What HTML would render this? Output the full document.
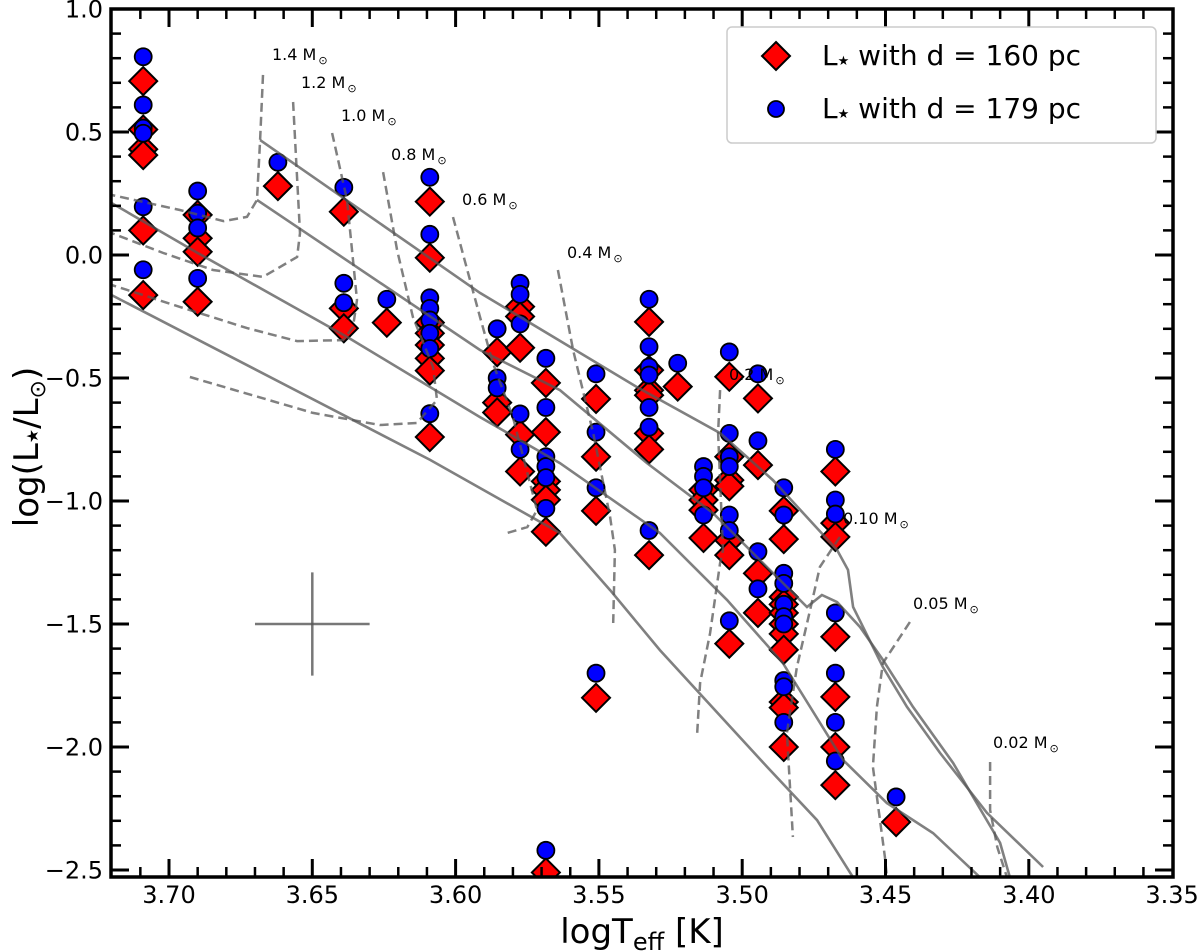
<!DOCTYPE html>
<html><head><meta charset="utf-8"><style>
html,body{margin:0;padding:0;background:#fff;}
svg{display:block;font-family:"DejaVu Sans","Liberation Sans",sans-serif;}
</style></head><body>
<svg id="chart" width="1200" height="951" viewBox="0 0 1200 951" xmlns="http://www.w3.org/2000/svg">
<defs><clipPath id="plotclip"><rect x="111" y="9" width="1062" height="868"/></clipPath></defs>
<g id="marks" clip-path="url(#plotclip)"></g>
<g id="axes"></g>
</svg>
<script>
// ---- data ----
const teff160 = [3.709,3.709,3.709,3.709,3.709,3.709, 3.690,3.690,3.690,3.690, 3.662, 3.639,3.639,3.639, 3.624,
 3.609,3.609,3.609,3.609,3.609,3.609,3.609,3.609, 3.5855,3.5855,3.5855, 3.5775,3.5775,3.5775,3.5775,3.5775,
 3.5685,3.5685,3.5685,3.5685,3.5685,3.5685,3.5685, 3.551,3.551,3.551,3.551, 3.5325,3.5325,3.5325,3.5325,3.5325,3.5325,3.5325,
 3.5225, 3.5135,3.5135,3.5135,3.5135, 3.5045,3.5045,3.5045,3.5045,3.5045,3.5045,3.5045, 3.4945,3.4945,3.4945,3.4945,
 3.4855,3.4855,3.4855,3.4855,3.4855,3.4855,3.4855,3.4855,3.4855,3.4855,3.4855, 3.4675,3.4675,3.4675,3.4675,3.4675,3.4675,3.4675, 3.4463];
const lum160 = [0.707,0.51,0.43,0.406,0.10,-0.163, 0.163,0.068,0.013,-0.19, 0.28, 0.176,-0.217,-0.298, -0.275,
 0.217,-0.011,-0.275,-0.318,-0.366,-0.42,-0.47,-0.74, -0.395,-0.60,-0.64, -0.21,-0.25,-0.377,-0.73,-0.88,
 -0.52,-0.72,-0.92,-0.955,-0.995,-1.125,-2.51, -0.585,-0.82,-1.04,-1.80, -0.272,-0.468,-0.55,-0.57,-0.725,-0.79,-1.22,
 -0.535, -0.955,-0.996,-1.037,-1.15, -0.495,-0.82,-0.915,-0.94,-1.16,-1.22,-1.58, -0.583,-0.854,-1.294,-1.455,
 -1.04,-1.155,-1.39,-1.42,-1.455,-1.50,-1.54,-1.605,-1.817,-1.84,-2.0, -0.88,-1.09,-1.146,-1.552,-1.796,-2.0,-2.155, -2.305];
const teff179 = [3.709,3.709,3.709,3.709,3.709,3.709, 3.690,3.690,3.690,3.690, 3.662, 3.639,3.639,3.639, 3.624,
 3.609,3.609,3.609,3.609,3.609,3.609,3.609,3.609, 3.5855,3.5855,3.5855, 3.5775,3.5775,3.5775,3.5775,3.5775,
 3.5685,3.5685,3.5685,3.5685,3.5685,3.5685,3.5685, 3.551,3.551,3.551,3.551, 3.5325,3.5325,3.5325,3.5325,3.5325,3.5325,3.5325,
 3.5225, 3.5135,3.5135,3.5135,3.5135, 3.5045,3.5045,3.5045,3.5045,3.5045,3.5045,3.5045, 3.4945,3.4945,3.4945,3.4945,
 3.4855,3.4855,3.4855,3.4855,3.4855,3.4855,3.4855,3.4855,3.4855,3.4855, 3.4675,3.4675,3.4675,3.4675,3.4675,3.4675,3.4675, 3.4463];
const lum179 = [0.806,0.61,0.516,0.495,0.196,-0.06, 0.26,0.17,0.11,-0.095, 0.377, 0.275,-0.115,-0.194, -0.18,
 0.316,0.084,-0.174,-0.217,-0.264,-0.318,-0.38,-0.645, -0.30,-0.50,-0.54, -0.115,-0.16,-0.28,-0.646,-0.79,
 -0.42,-0.62,-0.82,-0.86,-0.905,-1.03,-2.42, -0.483,-0.72,-0.946,-1.70, -0.18,-0.373,-0.455,-0.488,-0.62,-0.70,-1.12,
 -0.44, -0.86,-0.90,-0.946,-1.057, -0.394,-0.725,-0.82,-0.86,-1.057,-1.12,-1.487, -0.483,-0.755,-1.206,-1.357,
 -0.946,-1.057,-1.294,-1.335,-1.42,-1.47,-1.50,-1.73,-1.755,-1.90, -0.79,-0.996,-1.053,-1.455,-1.70,-1.90,-2.057, -2.203];
// isochrones [logT, logL]
const iso1 = [[3.6682,0.467],[3.5915,-0.154],[3.560,-0.374],[3.5367,-0.537],[3.5077,-0.724],[3.4893,-0.915],[3.4669,-1.199],[3.4631,-1.28],[3.4613,-1.431],[3.4509,-1.675],[3.4425,-1.837],[3.431,-2.024],[3.4146,-2.268],[3.395,-2.488]];
const iso2 = [[3.6693,0.224],[3.5915,-0.386],[3.5636,-0.549],[3.5332,-0.846],[3.5102,-1.049],[3.4774,-1.431],[3.4722,-1.382],[3.4669,-1.411],[3.4589,-1.512],[3.4509,-1.646],[3.4404,-1.837],[3.4264,-2.065],[3.410,-2.39],[3.4066,-2.53]];
const iso3 = [[3.72,0.211],[3.690,0.008],[3.6379,-0.333],[3.5915,-0.659],[3.5636,-0.846],[3.5287,-1.13],[3.5053,-1.402],[3.4858,-1.659],[3.4648,-2.053],[3.4495,-2.228],[3.4334,-2.35],[3.417,-2.53]];
const iso4 = [[3.72,-0.163],[3.6089,-0.833],[3.5636,-1.13],[3.5461,-1.362],[3.5287,-1.606],[3.4913,-2.081],[3.4739,-2.297],[3.4613,-2.53]];
// mass tracks
const trackNames = ["1.4","1.2","1.0","0.8","0.6","0.4","0.2","0.10","0.05","0.02"];
const tr14 = [[3.6672,0.732],[3.6682,0.467],[3.6693,0.224],[3.6728,0.155],[3.681,0.138],[3.6962,0.183],[3.72,0.244]];
const tr12 = [[3.6567,0.622],[3.6543,0.089],[3.6553,-0.008],[3.6672,-0.089],[3.6846,-0.061],[3.702,0.008],[3.72,0.089]];
const tr10 = [[3.6431,0.496],[3.6379,0.224],[3.6344,-0.183],[3.6358,-0.293],[3.6393,-0.346],[3.6553,-0.35],[3.6728,-0.297],[3.6962,-0.211],[3.72,-0.122]];
const tr08 = [[3.6253,0.337],[3.6204,0.02],[3.6149,-0.252],[3.6079,-0.455],[3.6065,-0.589],[3.6135,-0.683],[3.6264,-0.691],[3.6498,-0.642],[3.6927,-0.496]];
const tr06 = [[3.6009,0.154],[3.5915,-0.252],[3.587,-0.439],[3.580,-0.659],[3.5716,-1.037],[3.575,-1.106],[3.582,-1.13]];
const tr04 = [[3.5643,-0.061],[3.559,-0.386],[3.552,-0.724],[3.5461,-1.065],[3.5444,-1.199],[3.545,-1.496]];
const tr02 = [[3.5077,-0.549],[3.5084,-0.724],[3.5067,-1.199],[3.5077,-1.252],[3.5112,-1.537],[3.5147,-1.74],[3.5157,-1.943]];
const tr010 = [[3.4659,-1.146],[3.4729,-1.268],[3.4763,-1.443],[3.4809,-1.675],[3.4844,-1.943],[3.4823,-2.366]];
const tr005 = [[3.4415,-1.492],[3.4509,-1.659],[3.453,-1.837],[3.4544,-2.081],[3.4502,-2.447],[3.4495,-2.53]];
const tr002 = [[3.4135,-2.061],[3.4135,-2.256],[3.411,-2.407],[3.4076,-2.53]];
const xTicks = [3.70,3.65,3.60,3.55,3.50,3.45,3.40,3.35];
const xTickLabels = ["3.70","3.65","3.60","3.55","3.50","3.45","3.40","3.35"];
const yTicks = [1.0,0.5,0.0,-0.5,-1.0,-1.5,-2.0,-2.5];
const yTickLabels = ["1.0","0.5","0.0","\u22120.5","\u22121.0","\u22121.5","\u22122.0","\u22122.5"];
const errCenter = [3.65,-1.5], errHalf = [0.02,0.21];

// ---- scales ----
const X0=111,X1=1173,Y0=9,Y1=877;
const X = t => 169 + (3.70 - t) * 2866;
const Y = l => 255 - l * 246;
const NS="http://www.w3.org/2000/svg";
const marks=document.getElementById('marks'), axes=document.getElementById('axes');
function mk(tag, attrs, parent){const e=document.createElementNS(NS,tag);for(const k in attrs)e.setAttribute(k,attrs[k]);parent.appendChild(e);return e;}

for(let i=0;i<teff160.length;i++){
  const cx=X(teff160[i]), cy=Y(lum160[i]), h=14;
  const p=mk('polygon',{points:`${cx},${cy-h} ${cx+h},${cy} ${cx},${cy+h} ${cx-h},${cy}`,fill:'#ff0000',stroke:'#000','stroke-width':2},marks);
  
  
}
for(let i=0;i<teff179.length;i++){
  const c=mk('circle',{cx:X(teff179[i]),cy:Y(lum179[i]),r:8.5,fill:'#0000ff',stroke:'#000','stroke-width':1.8},marks);
  
  
}
function poly(pts,dash,name){
  const d=pts.map((p,i)=>(i?'L':'M')+X(p[0]).toFixed(1)+','+Y(p[1]).toFixed(1)).join(' ');
  const e=mk('path',{d:d,fill:'none',stroke:'#555',"stroke-opacity":0.75,'stroke-width':dash?2.5:2.6,'stroke-dasharray':dash?'9,5':'none'},marks);
  
  
}
[iso1,iso2,iso3,iso4].forEach((c,i)=>poly(c,false,'isochrone-'+(i+1)));
[tr14,tr12,tr10,tr08,tr06,tr04,tr02,tr010,tr005,tr002].forEach((c,i)=>poly(c,true,'mass-track-'+trackNames[i]));
const labelPos=[[272,60],[301,88],[341,121],[391,160],[462,205],[567,258],[729,380],[843,524],[913,609],[993,748]];
trackNames.forEach((n,i)=>{
  const t=mk('text',{x:labelPos[i][0],y:labelPos[i][1],'font-size':16,fill:'#000'},axes);
  t.textContent=n+' M';
  const s=mk('tspan',{'font-size':11,dy:4,dx:2},t);
  s.textContent='\u2299';
  
  
});
const eh=mk('line',{x1:X(errCenter[0]-errHalf[0]),x2:X(errCenter[0]+errHalf[0]),y1:Y(errCenter[1]),y2:Y(errCenter[1]),stroke:'#555','stroke-opacity':0.8,'stroke-width':2.5},marks);


const ev=mk('line',{x1:X(errCenter[0]),x2:X(errCenter[0]),y1:Y(errCenter[1]+errHalf[1]),y2:Y(errCenter[1]-errHalf[1]),stroke:'#555','stroke-opacity':0.8,'stroke-width':2.5},marks);



for(let k=0;k<=37;k++){
  const t=3.72-k*0.01; const x=X(t); if(x<X0+1||x>X1-1)continue;
  const major=Math.abs(Math.round(t*100)%5)===0; const len=major?18:10;
  mk('line',{x1:x,x2:x,y1:Y1,y2:Y1-len,stroke:'#000','stroke-width':major?3:2.5},axes);
  mk('line',{x1:x,x2:x,y1:Y0,y2:Y0+len,stroke:'#000','stroke-width':major?3:2.5},axes);
}
for(let k=0;k<=36;k++){
  const l=1.0-k*0.1; const y=Y(l); if(y<Y0+1||y>Y1-1)continue;
  const major=Math.abs(Math.round(l*10)%5)===0; const len=major?18:10;
  mk('line',{x1:X0,x2:X0+len,y1:y,y2:y,stroke:'#000','stroke-width':major?3:2.5},axes);
  mk('line',{x1:X1,x2:X1-len,y1:y,y2:y,stroke:'#000','stroke-width':major?3:2.5},axes);
}
mk('rect',{x:X0,y:Y0,width:X1-X0,height:Y1-Y0,fill:'none',stroke:'#000','stroke-width':3.5},axes);
xTicks.forEach((t,i)=>{
  const e=mk('text',{x:X(t),y:903,'font-size':24,'text-anchor':'middle'},axes);
  e.textContent=xTickLabels[i];
  
  
});
yTicks.forEach((l,i)=>{
  const e=mk('text',{x:103,y:Y(l)+8.5,'font-size':24,'text-anchor':'end'},axes);
  e.textContent=yTickLabels[i];
  
  
});
</script>
<svg style="position:absolute;left:0;top:0" width="1200" height="951" viewBox="0 0 1200 951" xmlns="http://www.w3.org/2000/svg">
<g>
<rect x="727" y="27" width="429" height="116" rx="5" fill="#fff" fill-opacity="0.85" stroke="#cccccc" stroke-width="1.5"/>
<polygon points="776,42 790,56 776,70 762,56" fill="#ff0000" stroke="#000" stroke-width="2"/>
<circle cx="776" cy="109" r="8" fill="#0000ff" stroke="#000" stroke-width="1.8"/>
<text x="822" y="65" font-size="28" font-family="DejaVu Sans, Liberation Sans, sans-serif">L<tspan font-size="13">★</tspan> with d = 160 pc</text>
<text x="822" y="118" font-size="28" font-family="DejaVu Sans, Liberation Sans, sans-serif">L<tspan font-size="13">★</tspan> with d = 179 pc</text>
</g>
<text x="642" y="943" font-size="34" text-anchor="middle" font-family="DejaVu Sans, Liberation Sans, sans-serif">logT<tspan font-size="24" dy="7">eff</tspan><tspan dy="-7"> [K]</tspan></text>
<text transform="translate(38,447) rotate(-90)" font-size="34" text-anchor="middle" font-family="DejaVu Sans, Liberation Sans, sans-serif">log(L<tspan font-size="16">★</tspan>/L<tspan font-size="22" dy="7">⊙</tspan><tspan dy="-7">)</tspan></text>
</svg>
</body></html>
